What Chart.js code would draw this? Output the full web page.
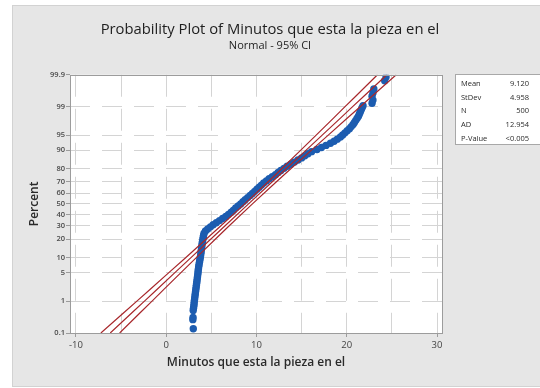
<!DOCTYPE html>
<html>
<head>
<meta charset="utf-8">
<script src="https://cdn.jsdelivr.net/npm/chart.js@4.4.1/dist/chart.umd.min.js"></script>
<style>
  html, body { margin: 0; padding: 0; background: #fff; }
</style>
</head>
<body>
<canvas id="chartProb" width="540" height="388"></canvas>
<script>
// Percent levels shown on the probability axis
const percentTicks = [0.1, 1, 5, 10, 20, 30, 40, 50, 60, 70, 80, 90, 95, 99, 99.9];
// Vertical grid positions (labels only on the multiples of 10)
const xGridValues = [-10, -5, 0, 5, 10, 15, 20, 25, 30];

// Fitted normal line and 95% CI, read at these percent levels
const fitPercent = [0.1, 0.5, 1, 2, 5, 10, 20, 30, 50, 70, 80, 90, 95, 98, 99, 99.5, 99.9];
const fitMinutes = [-6.20, -3.65, -2.41, -1.06, 0.96, 2.77, 4.95, 6.52, 9.12, 11.72, 13.29, 15.47, 17.28, 19.30, 20.65, 21.89, 24.44];
const lowerMinutes = [-7.24, -4.55, -3.25, -1.83, 0.29, 2.18, 4.44, 6.06, 8.69, 11.26, 12.78, 14.88, 16.61, 18.53, 19.81, 20.99, 23.40];
const upperMinutes = [-5.16, -2.75, -1.57, -0.29, 1.63, 3.36, 5.46, 6.98, 9.55, 12.18, 13.80, 16.06, 17.95, 20.07, 21.49, 22.79, 25.48];

// Plotted sample points (minutes, percent)
const sampleMinutes = [3.00, 2.95, 2.97,
    2.99, 3.02, 3.05, 3.08, 3.10, 3.13, 3.16, 3.19, 3.22, 3.25, 3.28, 3.31, 3.34, 3.37, 3.40, 3.43, 3.46, 3.49, 3.52,
    3.54, 3.57, 3.60, 3.64, 3.68, 3.72, 3.76, 3.80, 3.83, 3.86, 3.89, 3.92, 3.95, 3.98, 4.02, 4.06, 4.10, 4.14, 4.20,
    4.35, 4.60, 4.90, 5.20, 5.55, 5.90, 6.25, 6.60, 6.90, 7.20, 7.45, 7.70, 7.97, 8.25,
    8.50, 8.75, 9.02, 9.30, 9.55, 9.80, 10.05, 10.30, 10.55, 10.80,
    11.10, 11.40, 11.75, 12.10, 12.40, 12.70, 13.05, 13.40, 13.80, 14.20,
    14.60, 15.00, 15.35, 15.70, 16.10, 16.70, 17.20, 17.70, 18.20, 18.60,
    18.95, 19.30, 19.55, 19.80, 20.05, 20.30, 20.50, 20.70, 20.85, 21.00,
    21.15, 21.30, 21.40, 21.50, 21.60, 21.70, 21.80,
    22.80, 22.90, 22.80, 22.90, 23.00, 24.20, 24.35];
const samplePercent = [0.14, 0.28, 0.33,
    0.54, 0.62, 0.71, 0.82, 0.94, 1.07, 1.22, 1.39, 1.58, 1.79, 2.02, 2.28, 2.56, 2.87, 3.22, 3.59, 4.01, 4.46, 4.95,
    5.48, 6.06, 6.68, 7.35, 8.08, 8.85, 9.68, 10.56, 11.51, 12.51, 13.57, 14.69, 15.87, 17.11, 18.41, 19.77, 21.19, 22.66, 24.20,
    25.78, 27.43, 29.12, 30.85, 32.64, 34.46, 36.32, 38.21, 40.13, 42.07, 44.04, 46.02, 48.01, 50.00,
    51.99, 53.98, 55.96, 57.93, 59.87, 61.79, 63.68, 65.54, 67.36, 69.15,
    70.88, 72.57, 74.22, 75.80, 77.34, 78.81, 80.23, 81.59, 82.89, 84.13,
    85.31, 86.43, 87.49, 88.49, 89.44, 90.32, 91.15, 91.92, 92.65, 93.32,
    93.94, 94.52, 95.05, 95.54, 95.99, 96.41, 96.78, 97.13, 97.44, 97.72,
    97.98, 98.21, 98.42, 98.61, 98.78, 98.93, 99.06,
    99.20, 99.35, 99.50, 99.60, 99.70, 99.84, 99.88];

// Summary table on the right
const statLabels = ['Mean', 'StDev', 'N', 'AD', 'P-Value'];
const statValues = ['9.120', '4.958', '500', '12.954', '<0.005'];

const RED = '#a8282c';
const BLUE = '#1c5cb0';
const GRID = '#d4d4d4';
const FONT = 'Open Sans';

/**
 * Inverse standard normal CDF (Acklam)
 */
function probit(p) {
    const a = [-3.969683028665376e+01, 2.209460984245205e+02, -2.759285104469687e+02, 1.383577518672690e+02, -3.066479806614716e+01, 2.506628277459239e+00];
    const b = [-5.447609879822406e+01, 1.615858368580409e+02, -1.556989798598866e+02, 6.680131188771972e+01, -1.328068155288572e+01];
    const c = [-7.784894002430293e-03, -3.223964580411365e-01, -2.400758277161838e+00, -2.549732539343734e+00, 4.374664141464968e+00, 2.938163982698783e+00];
    const d = [7.784695709041462e-03, 3.224671290700398e-01, 2.445134137142996e+00, 3.754408661907416e+00];
    const tail = (q) => (((((c[0] * q + c[1]) * q + c[2]) * q + c[3]) * q + c[4]) * q + c[5]) / ((((d[0] * q + d[1]) * q + d[2]) * q + d[3]) * q + 1);
    if (p < 0.02425) return tail(Math.sqrt(-2 * Math.log(p)));
    if (p > 1 - 0.02425) return -tail(Math.sqrt(-2 * Math.log(1 - p)));
    const q = p - 0.5, r = q * q;
    return (((((a[0] * r + a[1]) * r + a[2]) * r + a[3]) * r + a[4]) * r + a[5]) * q /
        (((((b[0] * r + b[1]) * r + b[2]) * r + b[3]) * r + b[4]) * r + 1);
}

function normCdf(z) {
    // Abramowitz-Stegun erf approximation
    const t = 1 / (1 + 0.3275911 * Math.abs(z) / Math.SQRT2);
    const y = 1 - (((((1.061405429 * t - 1.453152027) * t + 1.421413741) * t - 0.284496736) * t + 0.254829592) * t) * Math.exp(-z * z / 2);
    return z >= 0 ? (1 + y) / 2 : (1 - y) / 2;
}

/**
 * Normal probability scale (percent values, spaced by their z-score)
 */
class ProbabilityScale extends Chart.Scale {
    determineDataLimits() {
        this.min = this.options.min;
        this.max = this.options.max;
    }
    buildTicks() {
        return percentTicks.map(v => ({ value: v }));
    }
    getLabelForValue(value) {
        return String(value);
    }
    configure() {
        super.configure();
        this._zLow = probit(this.min / 100);
        this._zHigh = probit(this.max / 100);
    }
    getPixelForValue(value) {
        const z = probit(value / 100);
        return this.getPixelForDecimal((z - this._zLow) / (this._zHigh - this._zLow));
    }
    getValueForPixel(pixel) {
        const z = this._zLow + this.getDecimalForPixel(pixel) * (this._zHigh - this._zLow);
        return normCdf(z) * 100;
    }
    getPixelForTick(index) {
        return this.getPixelForValue(this.ticks[index].value);
    }
}
ProbabilityScale.id = 'probability';
ProbabilityScale.defaults = {};
Chart.register(ProbabilityScale);

/**
 * Grey panel, white plot area, frame and stats table
 */
const panelPlugin = {
    id: 'panel',
    beforeDraw(chart) {
        const { ctx, chartArea: a } = chart;
        ctx.save();
        ctx.fillStyle = '#ffffff';
        ctx.fillRect(0, 0, chart.width, chart.height);
        ctx.fillStyle = '#e6e6e6';
        ctx.fillRect(12, 5, chart.width - 12, chart.height - 6);
        ctx.strokeStyle = '#d2d2d2';
        ctx.strokeRect(12.5, 5.5, chart.width - 12, chart.height - 7);
        ctx.fillStyle = '#ffffff';
        ctx.fillRect(a.left, a.top, a.right - a.left, a.bottom - a.top);
        ctx.restore();
    },
    afterDatasetsDraw(chart) {
        const { ctx, chartArea: a } = chart;
        ctx.save();
        ctx.strokeStyle = '#9c9c9c';
        ctx.lineWidth = 1;
        ctx.strokeRect(Math.round(a.left) + 0.5, Math.round(a.top) + 0.5,
            Math.round(a.right - a.left), Math.round(a.bottom - a.top));
        ctx.restore();
    },
    afterDraw(chart) {
        const { ctx } = chart;
        ctx.save();
        ctx.fillStyle = '#ffffff';
        ctx.fillRect(455, 74, 85, 71);
        ctx.strokeStyle = '#a8a8a8';
        ctx.strokeRect(455.5, 74.5, 90, 70);
        ctx.font = '7.5px "' + FONT + '"';
        ctx.fillStyle = '#2a2a2a';
        ctx.textBaseline = 'middle';
        statLabels.forEach((label, i) => {
            const y = 83.5 + i * 13.9;
            ctx.textAlign = 'left';
            ctx.fillText(label, 461, y);
            ctx.textAlign = 'right';
            ctx.fillText(statValues[i], 529, y);
        });
        ctx.restore();
    }
};

const toPoints = (xs, ys) => xs.map((x, i) => ({ x: x, y: ys[i] }));
const lineSet = (label, xs) => ({
    label: label,
    data: toPoints(xs, fitPercent),
    showLine: true,
    borderColor: RED,
    borderWidth: 1.2,
    pointRadius: 0,
    order: 0
});

const ctx = document.getElementById('chartProb').getContext('2d');
new Chart(ctx, {
    type: 'scatter',
    data: {
        datasets: [
            lineSet('Fit', fitMinutes),
            lineSet('Lower 95% CI', lowerMinutes),
            lineSet('Upper 95% CI', upperMinutes),
            {
                label: 'Minutos que esta la pieza en el',
                data: toPoints(sampleMinutes, samplePercent),
                backgroundColor: BLUE,
                borderWidth: 0,
                pointRadius: 3.7,
                order: 1
            }
        ]
    },
    options: {
        responsive: false,
        animation: false,
        layout: { padding: { top: 21, left: 0, right: 0, bottom: 0 } },
        plugins: {
            legend: { display: false },
            tooltip: { enabled: false },
            title: {
                display: true,
                text: 'Probability Plot of Minutos que esta la pieza en el',
                color: '#1e1e1e',
                font: { family: FONT, size: 14.8, weight: 'normal' },
                padding: { top: 0, bottom: 0 }
            },
            subtitle: {
                display: true,
                text: 'Normal - 95% CI',
                color: '#1e1e1e',
                font: { family: FONT, size: 11 },
                padding: { top: 0, bottom: 22.8 }
            }
        },
        scales: {
            x: {
                type: 'linear',
                min: -10.66,
                max: 30.55,
                afterBuildTicks: (s) => { s.ticks = xGridValues.map(v => ({ value: v })); },
                afterFit: (s) => { s.height = 55; },
                grid: {
                    color: GRID,
                    tickLength: 4,
                    tickColor: (c) => (c.tick && c.tick.value % 10 === 0) ? '#9c9c9c' : 'rgba(0,0,0,0)'
                },
                border: { display: false, dash: [22, 12] },
                ticks: {
                    autoSkip: false,
                    maxRotation: 0,
                    padding: 3,
                    color: '#444',
                    font: { family: FONT, size: 9.5 },
                    callback: (v) => (v % 10 === 0 ? String(v) : '')
                },
                title: {
                    display: true,
                    text: 'Minutos que esta la pieza en el',
                    color: '#2a2a2a',
                    font: { family: FONT, size: 12, weight: '600' },
                    padding: { top: 0, bottom: 18.5 }
                }
            },
            y: {
                type: 'probability',
                min: 0.1,
                max: 99.9,
                afterFit: (s) => { s.width = 70; },
                grid: {
                    color: (c) => (c.tick && (c.tick.value === 0.1 || c.tick.value === 99.9)) ? 'rgba(0,0,0,0)' : GRID,
                    tickLength: 4,
                    tickColor: '#9c9c9c'
                },
                border: { display: false, dash: [20, 12] },
                ticks: {
                    autoSkip: false,
                    padding: 1,
                    color: '#4a4a4a',
                    font: { family: FONT, size: 7.5, weight: '600' }
                },
                title: {
                    display: true,
                    text: 'Percent',
                    color: '#2a2a2a',
                    font: { family: FONT, size: 12, weight: '600' },
                    padding: { top: 27.5, bottom: 0 }
                }
            },
            side: {
                type: 'linear',
                position: 'right',
                afterFit: (s) => { s.width = 98; },
                grid: { display: false },
                border: { display: false },
                ticks: { display: false }
            }
        }
    },
    plugins: [panelPlugin]
});
</script>
</body>
</html>
